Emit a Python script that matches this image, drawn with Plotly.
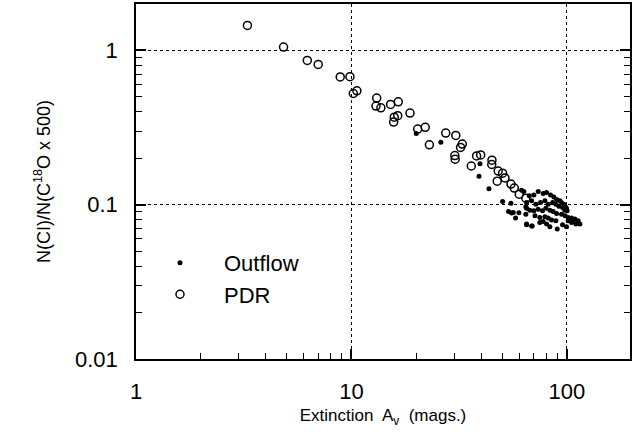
import plotly.graph_objects as go

# PDR (open circles)
pdr_av = [3.29, 4.84, 6.24, 7.01, 8.87, 9.84, 10.6, 10.2, 13.1, 13.0, 13.7, 15.2, 16.5, 16.4,
          15.8, 15.7, 18.7, 20.3, 22.0, 23.0, 27.4, 30.5, 32.7, 32.1, 30.2, 30.3, 38.1, 39.8,
          36.0, 44.9, 44.8, 48.0, 50.3, 47.5, 51.6, 55.0, 57.0, 60.1, 64.5]
pdr_ratio = [1.45, 1.05, 0.86, 0.81, 0.672, 0.675, 0.546, 0.525, 0.49, 0.435, 0.424, 0.446, 0.464,
             0.377, 0.369, 0.343, 0.392, 0.309, 0.317, 0.244, 0.291, 0.281, 0.247, 0.235, 0.208,
             0.197, 0.207, 0.21, 0.178, 0.194, 0.182, 0.165, 0.160, 0.142, 0.149, 0.136, 0.128,
             0.117, 0.110]

# Outflow (filled dots)
out_av = [20.0, 26.0, 39.5, 39.1, 43.5, 50.3, 55.0, 53.6, 55.4, 59.9, 57.8, 65.0, 69.0, 64.5, 64.5,
          61.6, 63.1, 66.9, 70.3, 73.6, 77.6, 80.5, 84.0, 87.0, 89.6, 92.8, 94.5, 96.8, 98.2, 99.6,
          65.0, 68.6, 71.8, 75.5, 79.1, 81.9, 85.9, 88.9, 91.8, 95.5, 97.9, 100.3,
          65.0, 67.3, 70.3, 73.6, 77.1, 79.9, 83.4, 86.4, 89.6, 94.5, 98.2, 101.4, 105.1, 108.9,
          71.1, 74.9, 79.1, 81.9, 84.9, 88.9, 77.6, 74.9, 80.5, 83.4, 90.2, 95.5, 99.6, 101.4,
          105.1, 110.1, 114.9, 112.9, 107.0, 68.6, 65.0, 56.4]
out_ratio = [0.289, 0.254, 0.184, 0.153, 0.127, 0.105, 0.102, 0.0903, 0.0882, 0.0887, 0.0819, 0.0741,
             0.0727, 0.0868, 0.0968,
             0.124, 0.1215, 0.114, 0.1156, 0.1215, 0.118, 0.1197, 0.1156, 0.1123, 0.1078, 0.1058,
             0.1027, 0.1007, 0.0978, 0.0949,
             0.1032, 0.1058, 0.1007, 0.1032, 0.1058, 0.1007, 0.1032, 0.1007, 0.0978, 0.0959, 0.0921,
             0.0912,
             0.0949, 0.0921, 0.0912, 0.0935, 0.0912, 0.0949, 0.0921, 0.0903, 0.0876, 0.0868, 0.0847,
             0.0826, 0.0818, 0.0806,
             0.0847, 0.0826, 0.0834, 0.0818, 0.0794, 0.0786, 0.0779, 0.0767, 0.0749, 0.0720, 0.0695,
             0.0741, 0.0720, 0.0786, 0.0767, 0.0749, 0.0749, 0.0786, 0.0794, 0.0727, 0.0749, 0.0889]

x_ticks = [1, 10, 100]
x_ticktext = ["1", "10", "100"]
x_minor = [2, 3, 4, 5, 6, 7, 8, 9, 20, 30, 40, 50, 60, 70, 80, 90]
y_ticks = [0.01, 0.1, 1]
y_ticktext = ["0.01", "0.1", "1"]
y_minor = [0.02, 0.03, 0.04, 0.05, 0.06, 0.07, 0.08, 0.09, 0.2, 0.3, 0.4, 0.5, 0.6, 0.7, 0.8, 0.9]

FONT = "Liberation Sans, Arial, sans-serif"

fig = go.Figure()
fig.add_trace(go.Scatter(x=out_av, y=out_ratio, mode="markers", name="Outflow",
                         marker=dict(symbol="circle", size=5, color="black")))
fig.add_trace(go.Scatter(x=pdr_av, y=pdr_ratio, mode="markers", name="PDR",
                         marker=dict(symbol="circle-open", size=8, color="black",
                                     line=dict(width=1.5, color="black"))))

axis_common = dict(
    type="log", showline=True, linecolor="black", linewidth=1.5,
    ticks="inside", ticklen=10, tickwidth=1.5, tickcolor="black",
    tickmode="array", showgrid=True, gridcolor="black", gridwidth=1.3, griddash="dot",
    zeroline=False, tickfont=dict(family=FONT, size=22, color="black"),
)

fig.update_xaxes(**axis_common, range=[0, 2.293], tickvals=x_ticks, ticktext=x_ticktext,
                 mirror=True, ticklabelstandoff=12,
                 minor=dict(tickmode="array", tickvals=x_minor, ticks="inside", ticklen=6,
                            tickwidth=1.2, tickcolor="black", showgrid=False),
                 title=dict(text="Extinction  A<sub>v</sub>  (mags.)",
                            font=dict(family=FONT, size=17, color="black"), standoff=6))
fig.update_yaxes(**axis_common, range=[-2, 0.3], tickvals=y_ticks, ticktext=y_ticktext,
                 mirror="ticks", ticklabelstandoff=12,
                 minor=dict(tickmode="array", tickvals=y_minor, ticks="inside", ticklen=6,
                            tickwidth=1.2, tickcolor="black", showgrid=False),
                 title=dict(text="N(CI)/N(C<sup>18</sup>O x 500)",
                            font=dict(family=FONT, size=18, color="black"), standoff=20))

fig.update_layout(
    width=639, height=437,
    margin=dict(l=136, r=9, t=2, b=78),
    paper_bgcolor="white", plot_bgcolor="white",
    font=dict(family=FONT, color="black"),
    legend=dict(x=0.0, y=0.33, xanchor="left", yanchor="top", bgcolor="rgba(0,0,0,0)",
                font=dict(family=FONT, size=22, color="black"), itemwidth=78,
                tracegroupgap=0),
)

fig.write_html("out.html")
